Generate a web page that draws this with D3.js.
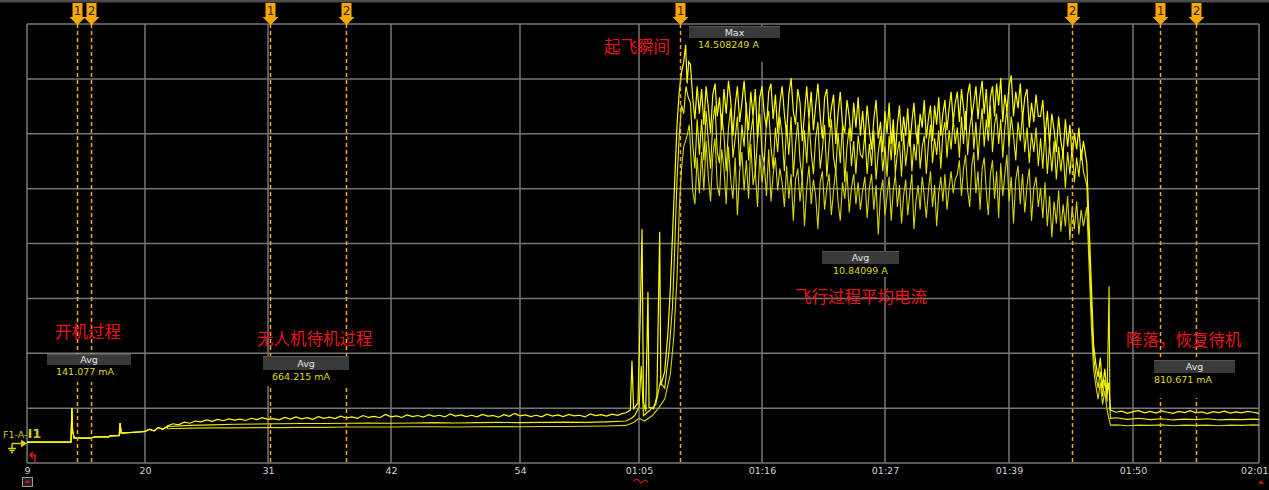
<!DOCTYPE html>
<html>
<head>
<meta charset="utf-8">
<script src="https://cdn.jsdelivr.net/npm/d3@7.9.0/dist/d3.min.js"></script>
<style>
  body { margin: 0; background: #000; }
  svg { display: block; }
</style>
</head>
<body>
<svg id="scope" width="1269" height="490"></svg>
<script>
// ---------- Data ----------
// time axis (seconds) and the labels the scope prints for it
const tickSeconds = [9, 20, 31, 42, 54, 65, 76, 87, 99, 110, 121];
const tickLabels = ["9", "20", "31", "42", "54", "01:05", "01:16", "01:27", "01:39", "01:50", "02:01"];

// power on, shared by all three traces (s, A)
const bootT = [9, 13.1, 13.18, 13.25, 13.4, 14.9, 15.3, 16.6, 16.75, 17.6, 17.68, 17.78, 18.6, 19.4, 20.0, 20.4, 20.8, 21.2, 21.6, 22.0];
const bootA = [0.03, 0.03, 1.27, 0.45, 0.18, 0.18, 0.22, 0.22, 0.26, 0.27, 0.73, 0.36, 0.38, 0.40, 0.42, 0.50, 0.44, 0.56, 0.50, 0.60];

// standby before take-off, sampled from 22 s
const standbyStart = 22;
const standbyStepU = 0.5;
const standbyU = [
  0.62, 0.70, 0.66, 0.76, 0.72, 0.80, 0.77, 0.84, 0.79, 0.86,
  0.81, 0.88, 0.83, 0.87, 0.82, 0.90, 0.85, 0.92, 0.86, 0.89,
  0.84, 0.93, 0.87, 0.95, 0.88, 0.92, 0.86, 0.96, 0.90, 0.94,
  0.89, 0.98, 0.91, 0.95, 0.90, 1.00, 0.93, 0.97, 0.92, 1.04,
  0.95, 0.99, 0.93, 1.02, 0.96, 1.00, 0.94, 1.03, 0.97, 1.01,
  0.95, 1.06, 0.98, 1.02, 0.96, 1.01, 0.95, 1.04, 0.98, 1.00,
  0.94, 1.03, 0.97, 1.08, 0.99, 1.02, 0.96, 1.01, 0.95, 1.05,
  0.98, 1.02, 0.96, 1.04, 0.99, 1.01, 0.95, 1.06, 1.00, 1.03,
  0.98, 1.05, 1.01, 1.08
];
const standbyStepML = 2;
const standbyM = [0.60, 0.64, 0.66, 0.68, 0.69, 0.70, 0.71, 0.71, 0.72, 0.73, 0.72, 0.73, 0.74, 0.73, 0.74, 0.75, 0.74, 0.75, 0.76, 0.75, 0.77];
const standbyL = [0.52, 0.54, 0.55, 0.55, 0.56, 0.56, 0.57, 0.57, 0.58, 0.58, 0.58, 0.59, 0.59, 0.58, 0.59, 0.60, 0.59, 0.60, 0.60, 0.61, 0.62];

// take-off (s, A)
const takeoffTU = [63.8, 64.2, 64.35, 64.5, 64.9, 65.1, 65.27, 65.4, 65.6, 65.8, 65.9, 66.3, 66.6, 66.85, 66.95, 67.3, 67.6, 67.8, 68.0, 68.2, 68.4, 68.6, 68.8, 69.0, 69.17, 69.3, 69.45];
const takeoffAU = [1.10, 1.20, 3.00, 1.25, 1.45, 4.50, 7.80, 1.50, 1.15, 5.50, 1.30, 1.25, 1.70, 7.70, 2.10, 2.60, 4.10, 5.60, 7.60, 9.60, 11.6, 12.8, 13.5, 13.9, 14.51, 13.1, 13.9];
const takeoffTM = [63.8, 64.3, 64.6, 65.0, 65.2, 65.4, 66.0, 66.5, 66.9, 67.3, 67.7, 68.0, 68.2, 68.4, 68.6, 68.8, 69.0, 69.2, 69.4];
const takeoffAM = [0.80, 0.90, 1.00, 1.30, 2.80, 1.00, 1.20, 1.40, 2.20, 2.00, 3.40, 5.00, 7.20, 9.60, 11.2, 12.3, 12.0, 13.0, 12.6];
const takeoffTL = [63.8, 64.5, 65.0, 65.5, 66.2, 66.8, 67.3, 67.8, 68.1, 68.4, 68.6, 68.8, 69.0, 69.3, 69.5];
const takeoffAL = [0.64, 0.75, 0.90, 0.80, 1.00, 1.30, 1.60, 2.50, 3.80, 6.00, 8.50, 10.0, 10.8, 11.2, 11.6];

// flight, sampled every 0.2 s from 69.6 s
const flightStart = 69.6;
const flightStep = 0.2;
const flightU = [
  13.8, 12.6, 11.8, 13.0, 12.0,
  12.9, 11.6, 13.0, 12.2, 11.3, 12.7, 13.1, 11.9, 12.6, 11.4, 12.9, 12.0, 13.2, 12.5, 11.2, 12.3, 13.0, 11.7,
  12.4, 13.2, 12.1, 11.4, 12.8, 11.9, 12.9, 11.1, 12.6, 13.0, 12.0, 11.5, 12.8, 13.1, 11.8, 12.7, 11.3, 12.4,
  13.0, 12.0, 11.2, 12.7, 13.3, 12.1, 11.6, 12.9, 12.4, 11.0, 12.0, 13.0, 11.8, 12.8, 11.4, 12.3, 13.1, 11.9,
  11.1, 12.6, 12.9, 11.5, 12.2, 12.7, 10.9, 12.0, 12.8, 11.6, 11.3, 12.5, 11.9, 11.0, 12.4, 11.5, 12.6, 11.2,
  12.1, 11.0, 12.3, 11.4, 10.7, 11.8, 12.5, 11.1, 11.7, 10.6, 12.1, 11.3, 12.4, 10.9, 11.8, 10.5, 11.6, 12.3,
  11.0, 11.9, 11.2, 12.2, 10.8, 11.7, 12.4, 11.3, 10.9, 12.0, 11.5, 12.5, 11.1, 11.8, 12.3, 11.0, 12.3, 11.6,
  12.6, 11.2, 12.0, 12.5, 11.4, 12.2, 12.8, 11.7, 12.4,
  12.8, 11.7, 12.9, 12.2, 11.4, 12.7, 13.1, 11.9, 12.4, 13.0, 11.8, 12.7, 13.2, 12.0, 12.9, 11.5, 12.6, 13.0,
  11.9, 13.1, 12.3, 13.3, 11.7, 12.7, 12.1, 13.0, 13.4, 11.9, 12.8, 12.2, 13.1, 11.8, 12.6, 12.9, 11.5, 12.4,
  11.7, 12.7, 11.9,
  11.9, 12.5, 11.1, 12.1, 10.9, 12.0, 11.4, 10.6, 11.9, 11.0, 10.5, 11.8, 10.8, 11.6, 10.4, 11.3, 10.7, 11.5,
  10.3, 11.0
];
const flightM = [
  12.4, 10.9, 10.0, 11.8, 10.5,
  11.8, 10.3, 12.1, 11.0, 10.0, 11.7, 12.3, 10.6, 10.2, 12.0, 11.2, 9.9, 11.5, 12.2, 10.4, 11.1, 11.9, 10.1,
  11.6, 10.8, 12.4, 10.3, 11.3, 11.9, 9.8, 11.1, 12.0, 10.6, 10.2, 11.7, 12.1, 10.8, 10.0, 11.5, 10.6, 11.9,
  11.2, 9.9, 11.6, 10.5, 11.9, 9.7, 10.9, 11.7, 10.3, 9.6, 11.4, 10.2, 11.8, 10.6, 9.8, 11.1, 11.7, 10.0,
  10.7, 11.6, 9.7, 10.9, 11.8, 10.4, 9.9, 11.3, 10.2, 11.6, 9.5, 10.8, 11.5, 10.1, 11.0, 9.8, 11.2, 10.5,
  10.4, 11.3, 9.8, 10.9, 10.1, 11.4, 9.6, 10.6, 11.2, 9.9, 10.8, 9.7, 11.2, 10.3, 11.5, 9.8, 10.6, 11.0,
  9.7, 11.3, 10.1, 10.8, 11.4, 9.9, 10.9, 10.3, 11.6, 10.0, 10.8, 11.2, 9.8, 10.9, 11.6, 10.2, 11.1, 10.5,
  11.4, 10.0, 11.3, 11.7, 10.4, 11.4, 10.7, 11.8, 10.9,
  11.5, 10.4, 11.9, 10.9, 12.1, 10.5, 11.5, 12.0, 10.7, 11.7, 10.3, 11.4, 12.2, 10.8, 11.8, 11.0, 12.3, 10.6,
  11.6, 12.0, 10.9, 11.8, 10.4, 11.5, 12.2, 10.8, 11.9, 11.2, 10.3, 11.7, 11.0, 12.0, 10.6, 11.5, 10.2, 11.3,
  10.6, 11.5, 10.1,
  11.1, 10.0, 11.4, 9.8, 10.9, 9.9, 11.0, 9.6, 10.8, 9.9, 10.7, 9.3, 10.6, 9.8, 10.8, 9.5, 10.4, 9.7,
  10.7, 9.9
];
const flightL = [
  10.8, 9.2, 8.7, 10.4, 9.1,
  10.6, 9.2, 11.0, 9.7, 8.8, 10.5, 11.1, 9.4, 9.0, 10.7, 10.0, 8.7, 10.8, 9.6, 8.9, 10.4, 8.3, 9.9,
  10.6, 9.2, 10.3, 8.9, 10.9, 9.4, 9.9, 8.6, 10.5, 9.5, 10.2, 9.0, 10.7, 8.8, 9.8, 10.4, 9.2, 10.0,
  9.5, 8.6, 10.1, 8.9, 9.8, 8.1, 9.6, 10.0, 8.8, 9.7, 7.9, 9.3, 10.1, 8.7, 9.6, 9.0, 7.8, 9.5,
  9.9, 8.5, 9.3, 9.8, 8.3, 9.2, 10.0, 8.8, 8.1, 9.5, 8.9, 9.9, 8.4, 9.3, 9.8, 8.7, 9.5, 8.5,
  9.2, 9.7, 8.2, 9.3, 9.8, 8.5, 9.4, 7.6, 9.1, 9.6, 8.3, 9.0, 9.7, 8.1, 9.2, 9.8, 8.6, 9.4,
  8.0, 9.0, 9.6, 8.3, 9.1, 9.8, 7.8, 8.8, 9.4, 8.5, 9.7, 9.0, 8.2, 9.2, 9.9, 8.6, 9.4, 7.9,
  9.1, 9.7, 8.8, 9.8, 8.5, 9.3, 9.9, 9.1, 9.6,
  9.8, 10.3, 9.0, 10.0, 10.5, 9.2, 8.6, 10.1, 10.6, 9.1, 9.9, 8.5, 10.0, 10.4, 9.2, 8.3, 9.8, 10.3,
  8.9, 9.9, 8.2, 10.2, 9.0, 9.8, 10.5, 8.8, 9.7, 8.0, 9.6, 10.1, 8.7, 9.8, 8.4, 9.4, 10.0, 8.1,
  9.3, 9.7, 8.6,
  9.3, 8.2, 9.5, 7.9, 9.0, 7.5, 8.8, 8.0, 9.2, 7.7, 8.7, 7.9, 9.0, 7.4, 8.6, 7.8, 8.8, 7.6,
  8.5, 7.9
];

// landing (s, A)
const landingTU = [105.9, 106.1, 106.3, 106.5, 106.7, 106.9, 107.1, 107.3, 107.5, 107.7, 107.85, 108.0];
const landingAU = [10.2, 8.0, 5.8, 3.6, 2.9, 2.4, 3.1, 2.0, 2.7, 1.8, 2.2, 1.2];
const landingTM = [105.9, 106.1, 106.3, 106.5, 106.7, 106.9, 107.1, 107.3, 107.5, 107.7, 107.88, 107.95, 108.0];
const landingAM = [9.4, 7.2, 5.0, 3.2, 2.5, 2.0, 2.6, 1.7, 2.3, 1.5, 5.7, 1.2, 0.9];
const landingTL = [105.9, 106.1, 106.3, 106.5, 106.7, 106.9, 107.1, 107.3, 107.5, 107.7, 108.0];
const landingAL = [8.6, 6.5, 4.3, 2.7, 2.1, 1.6, 2.2, 1.4, 1.9, 1.2, 0.65];

// standby after landing, sampled from 108.5 s
const restStart = 108.5;
const restStepU = 0.5;
const restU = [1.12, 1.16, 1.08, 1.14, 1.18, 1.10, 1.15, 1.09, 1.17, 1.12, 1.08, 1.15, 1.11, 1.18, 1.10, 1.13, 1.07, 1.14, 1.11, 1.16, 1.09, 1.13, 1.10, 1.15, 1.12, 1.08, 1.14];
const restStepML = 1;
const restM = [0.92, 0.86, 0.90, 0.85, 0.88, 0.84, 0.87, 0.85, 0.88, 0.84, 0.86, 0.85, 0.87, 0.85];
const restL = [0.66, 0.63, 0.65, 0.64, 0.66, 0.63, 0.65, 0.64, 0.65, 0.63, 0.65, 0.64, 0.66, 0.64];

// cursors
const cursorSeconds = [13.66, 14.97, 31.18, 37.98, 68.67, 104.59, 112.4, 115.5];
const cursorNames = ["1", "2", "1", "2", "1", "2", "1", "2"];

// measurements
const measureNames = ["Avg", "Avg", "Max", "Avg", "Avg"];
const measureValues = ["141.077 mA", "664.215 mA", "14.508249 A", "10.84099 A", "810.671 mA"];

// red notes
const noteTexts = ["开机过程", "无人机待机过程", "起飞瞬间", "飞行过程平均电流", "降落，恢复待机"];

// ---------- Layout ----------
const W = 1269, H = 490;
const plotTop = 24, plotBottom = 463;
// the picture is stitched from three screens, so divisions are not all equal
const gridX = [27, 145, 268, 391, 520, 639, 762, 885, 1009, 1133, 1259];
const ampMin = -0.73, ampMax = 15.27, ampDiv = 2;

const measureBoxes = [
  { x: 47, y: 354, w: 84, h: 11, bg: 17, tx: 56 },
  { x: 263, y: 356, w: 86, h: 14, bg: 16, tx: 272 },
  { x: 689, y: 26, w: 91, h: 12, bg: 24, tx: 698 },
  { x: 822, y: 251, w: 77, h: 13, bg: 13, tx: 833 },
  { x: 1154, y: 360, w: 81, h: 13, bg: 25, tx: 1154 }
];
const notePos = [[55, 338], [257, 345], [604, 53], [795, 303], [1126, 346]];

const svg = d3.select("#scope");
svg.append("rect").attr("width", W).attr("height", H).attr("fill", "#000");

const x = d3.scaleLinear().domain(tickSeconds).range(gridX);
const y = d3.scaleLinear().domain([ampMin, ampMax]).range([plotBottom, plotTop]);

// ---------- Grid ----------
const grid = svg.append("g").attr("stroke", "#777").attr("stroke-width", 1.5);
d3.range(ampMin, ampMax + 0.01, ampDiv).forEach((a) => {
  grid.append("line")
    .attr("x1", gridX[0]).attr("x2", gridX[gridX.length - 1])
    .attr("y1", y(a)).attr("y2", y(a));
});
tickSeconds.forEach((t) => {
  grid.append("line")
    .attr("x1", x(t)).attr("x2", x(t))
    .attr("y1", plotTop).attr("y2", plotBottom);
});

// top strip
svg.append("rect").attr("x", 0).attr("y", 0).attr("width", W).attr("height", 2.5).attr("fill", "#4c4c4c");

// ---------- Axis labels ----------
const axis = d3.axisBottom(x)
  .tickValues(tickSeconds)
  .tickFormat((d, i) => tickLabels[i])
  .tickSize(0)
  .tickPadding(4);
const axisG = svg.append("g").attr("transform", `translate(0,${plotBottom})`).call(axis);
axisG.select(".domain").remove();
axisG.selectAll("text")
  .attr("fill", "#d4d4d4")
  .attr("font-family", "DejaVu Sans, sans-serif")
  .attr("font-size", 9.5);
// the last label sits on the right edge of the screen
axisG.selectAll("text").filter((d, i) => i === tickSeconds.length - 1)
  .attr("text-anchor", "end")
  .attr("dx", W - 1 - gridX[gridX.length - 1]);

// ---------- Traces ----------
function sampled(start, step, values) {
  return values.map((v, i) => [start + i * step, v]);
}
function pairs(ts, as) {
  return ts.map((t, i) => [t, as[i]]);
}
const boot = pairs(bootT, bootA);
const traceU = boot.concat(
  sampled(standbyStart, standbyStepU, standbyU),
  pairs(takeoffTU, takeoffAU),
  sampled(flightStart, flightStep, flightU),
  pairs(landingTU, landingAU),
  sampled(restStart, restStepU, restU)
);
const traceM = boot.concat(
  sampled(standbyStart, standbyStepML, standbyM),
  pairs(takeoffTM, takeoffAM),
  sampled(flightStart, flightStep, flightM),
  pairs(landingTM, landingAM),
  sampled(restStart, restStepML, restM)
);
const traceL = boot.concat(
  sampled(standbyStart, standbyStepML, standbyL),
  pairs(takeoffTL, takeoffAL),
  sampled(flightStart, flightStep, flightL),
  pairs(landingTL, landingAL),
  sampled(restStart, restStepML, restL)
);

svg.append("clipPath").attr("id", "plot")
  .append("rect").attr("x", gridX[0]).attr("y", plotTop)
  .attr("width", gridX[gridX.length - 1] - gridX[0]).attr("height", plotBottom - plotTop);

const line = d3.line().x((d) => x(d[0])).y((d) => y(d[1]));
const traces = svg.append("g").attr("clip-path", "url(#plot)").attr("fill", "none");
[[traceL, "#d6d600", 1.1], [traceM, "#eeee00", 1.1], [traceU, "#ffff00", 1.2]].forEach(([d, c, w]) => {
  traces.append("path").attr("d", line(d)).attr("stroke", c).attr("stroke-width", w);
});

// ---------- Cursors ----------
const cursors = svg.append("g");
cursorSeconds.forEach((t, i) => {
  const cx = Math.round(x(t)) + 0.5;
  cursors.append("line")
    .attr("x1", cx).attr("x2", cx).attr("y1", plotTop).attr("y2", plotBottom)
    .attr("stroke", "#f5a623").attr("stroke-width", 1.5).attr("stroke-dasharray", "4,3");
  cursors.append("rect")
    .attr("x", cx - 5).attr("y", 3).attr("width", 10).attr("height", 14)
    .attr("fill", "#f7a800");
  cursors.append("path")
    .attr("d", `M${cx - 8},17 L${cx + 8},17 L${cx},25 Z`)
    .attr("fill", "#f7a800");
  cursors.append("text")
    .attr("x", cx).attr("y", 15)
    .attr("text-anchor", "middle")
    .attr("font-family", "DejaVu Sans, sans-serif")
    .attr("font-size", 12)
    .attr("fill", "#3a2600")
    .text(cursorNames[i]);
});

// ---------- Measurement boxes ----------
measureBoxes.forEach((b, i) => {
  const g = svg.append("g");
  g.append("rect").attr("x", b.x).attr("y", b.y + b.h)
    .attr("width", b.w).attr("height", b.bg).attr("fill", "#000");
  g.append("rect").attr("x", b.x).attr("y", b.y)
    .attr("width", b.w).attr("height", b.h).attr("fill", "#3a3a3a");
  g.append("line").attr("x1", b.x).attr("x2", b.x + b.w)
    .attr("y1", b.y + 0.5).attr("y2", b.y + 0.5).attr("stroke", "#555");
  g.append("text")
    .attr("x", b.x + b.w / 2).attr("y", b.y + b.h / 2 + 3.5)
    .attr("text-anchor", "middle")
    .attr("font-family", "DejaVu Sans, sans-serif")
    .attr("font-size", 9.5)
    .attr("fill", "#e4e4e4")
    .text(measureNames[i]);
  g.append("text")
    .attr("x", b.tx).attr("y", b.y + b.h + 10)
    .attr("font-family", "DejaVu Sans, sans-serif")
    .attr("font-size", 9.5)
    .attr("fill", "#dede10")
    .text(measureValues[i]);
});

// ---------- Notes ----------
noteTexts.forEach((s, i) => {
  svg.append("text")
    .attr("x", notePos[i][0]).attr("y", notePos[i][1])
    .attr("font-family", "Noto Sans CJK SC, sans-serif")
    .attr("font-size", 16.5)
    .attr("fill", "#e8141c")
    .text(s);
});

// ---------- Channel marker and small icons ----------
const chan = svg.append("text")
  .attr("x", 3).attr("y", 438)
  .attr("font-family", "DejaVu Sans, sans-serif")
  .attr("fill", "#cccc22");
chan.append("tspan").attr("font-size", 9.5).text("F1-A-");
chan.append("tspan").attr("font-size", 13).attr("font-weight", "bold").text("I1");

const y0 = Math.round(y(0)) + 0.5;
svg.append("path")
  .attr("d", `M12,${y0} L22,${y0} M12,${y0} L12,${y0 + 5} M8,${y0 + 5} L16,${y0 + 5} M9.5,${y0 + 7} L14.5,${y0 + 7} M11,${y0 + 9} L13,${y0 + 9}`)
  .attr("stroke", "#d4d400").attr("stroke-width", 1.5).attr("fill", "none");
svg.append("path")
  .attr("d", `M21,${y0 - 4} L27,${y0} L21,${y0 + 4} Z`)
  .attr("fill", "#d4d400");

svg.append("path")
  .attr("d", "M35,462 L35,455 L31,455 M33,452 L30,455 L33,458")
  .attr("stroke", "#e01010").attr("stroke-width", 1.6).attr("fill", "none");

svg.append("rect").attr("x", 22.5).attr("y", 477.5).attr("width", 10).attr("height", 9)
  .attr("fill", "#222").attr("stroke", "#999");
svg.append("path").attr("d", "M24.5,483 L27.5,480 L30.5,483 Z").attr("fill", "#d01010");

svg.append("path")
  .attr("d", "M633,481 L637,479 L641,483 L645,480 L648,482")
  .attr("stroke", "#d01010").attr("stroke-width", 1.3).attr("fill", "none");
svg.append("path").attr("d", "M1258,484 L1261,480 L1264,484 Z").attr("fill", "#d01010");
</script>
</body>
</html>
